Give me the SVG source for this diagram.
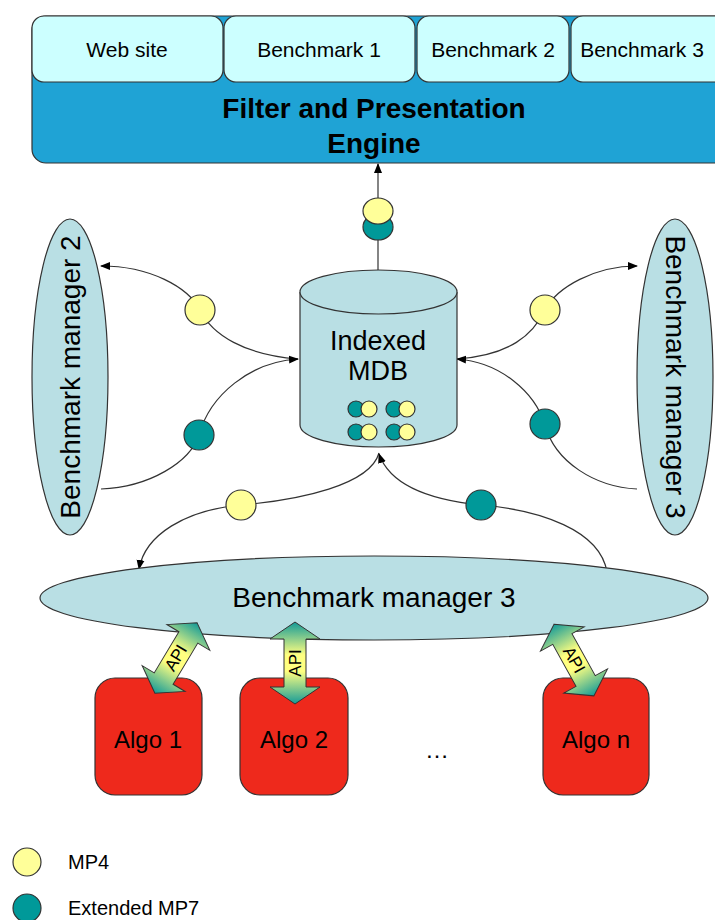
<svg xmlns="http://www.w3.org/2000/svg" width="715" height="920" viewBox="0 0 715 920">
<defs>
<style>
text{font-family:"Liberation Sans",Arial,sans-serif;fill:#000}
.tab{fill:#ccffff;stroke:#333;stroke-width:1.2}
.ell{fill:#b9dfe4;stroke:#333;stroke-width:1.2}
.algo{fill:#ee291c;stroke:#333;stroke-width:1.2}
.con{fill:none;stroke:#333;stroke-width:1.2}
.y{fill:#ffff99;stroke:#333;stroke-width:1.2}
.t{fill:#009999;stroke:#333;stroke-width:1.2}
.api{fill:url(#g);stroke:#333;stroke-width:1}
</style>
<marker id="ah" markerWidth="10" markerHeight="10" refX="9" refY="5" orient="auto" markerUnits="userSpaceOnUse">
<path d="M0,1 L10,5 L0,9 Z" fill="#000"/>
</marker>
<linearGradient id="g" x1="0" y1="0" x2="0" y2="1">
<stop offset="0" stop-color="#139a98"/>
<stop offset="0.4" stop-color="#ffff80"/>
<stop offset="0.6" stop-color="#ffff80"/>
<stop offset="1" stop-color="#139a98"/>
</linearGradient>
<path id="dbl" d="M0,-41 L25,-24 L11,-24 L11,24 L25,24 L0,41 L-25,24 L-11,24 L-11,-24 L-25,-24 Z"/>
</defs>
<rect width="715" height="920" fill="#fff"/>

<g id="engine">
<rect x="32" y="16" width="700" height="147" rx="14" fill="#1fa3d5" stroke="#333" stroke-width="1.2"/>
<text x="374" y="118" font-size="28" font-weight="bold" text-anchor="middle">Filter and Presentation</text>
<text x="374" y="153" font-size="28" font-weight="bold" text-anchor="middle">Engine</text>
</g>
<g id="tab-website"><rect class="tab" x="32" y="16" width="191" height="66" rx="12"/><text x="127" y="57" font-size="21" text-anchor="middle">Web site</text></g>
<g id="tab-bench1"><rect class="tab" x="224" y="16" width="191" height="66" rx="12"/><text x="319" y="57" font-size="21" text-anchor="middle">Benchmark 1</text></g>
<g id="tab-bench2"><rect class="tab" x="417" y="16" width="152" height="66" rx="12"/><text x="493" y="57" font-size="21" text-anchor="middle">Benchmark 2</text></g>
<g id="tab-bench3"><rect class="tab" x="571" y="16" width="160" height="66" rx="12"/><text x="642" y="57" font-size="21" text-anchor="middle">Benchmark 3</text></g>

<g id="connectors">
<path class="con" d="M378,270 L378,164" marker-end="url(#ah)"/>
<path class="con" d="M298,359 C245,355 212,335 200,310 C188,287 150,266 101,266" marker-end="url(#ah)"/>
<path class="con" d="M101,489 C150,487 190,462 199,435 C210,395 250,362 298,359" marker-end="url(#ah)"/>
<path class="con" d="M457,359 C510,355 533,335 545,310 C557,287 595,266 637,266" marker-end="url(#ah)"/>
<path class="con" d="M637,489 C595,487 555,462 545,425 C535,392 500,362 457,359" marker-end="url(#ah)"/>
<path class="con" d="M379,453 C370,485 300,500 241,505 C185,510 145,535 139,569" marker-end="url(#ah)"/>
<path class="con" d="M607,572 C600,530 540,510 481,505 C430,500 390,485 379,454" marker-end="url(#ah)"/>
<ellipse class="t" cx="378" cy="227" rx="15" ry="13"/>
<ellipse class="y" cx="378" cy="211" rx="15" ry="13"/>
<circle class="y" cx="200" cy="310" r="15"/>
<circle class="t" cx="199" cy="435" r="15"/>
<circle class="y" cx="545" cy="310" r="15"/>
<circle class="t" cx="545" cy="424" r="15"/>
<circle class="y" cx="241" cy="505" r="15"/>
<circle class="t" cx="481" cy="505" r="15"/>
</g>

<g id="mdb">
<path class="ell" d="M300,292 L300,425 A78.5,22 0 0 0 457,425 L457,292"/>
<ellipse class="ell" cx="378.5" cy="292" rx="78.5" ry="22"/>
<text x="378" y="350" font-size="27" text-anchor="middle">Indexed</text>
<text x="378" y="380" font-size="27" text-anchor="middle">MDB</text>
<circle class="t" cx="356" cy="409" r="8"/><circle class="y" cx="369" cy="409" r="8"/>
<circle class="t" cx="394" cy="409" r="8"/><circle class="y" cx="407" cy="409" r="8"/>
<circle class="t" cx="356" cy="432" r="8"/><circle class="y" cx="369" cy="432" r="8"/>
<circle class="t" cx="394" cy="432" r="8"/><circle class="y" cx="407" cy="432" r="8"/>
</g>

<g id="bm2">
<ellipse class="ell" cx="70" cy="377" rx="38" ry="158"/>
<text transform="translate(70,377) rotate(-90)" font-size="28" text-anchor="middle" dominant-baseline="central">Benchmark manager 2</text>
</g>
<g id="bm3-right">
<ellipse class="ell" cx="675" cy="377" rx="38" ry="158"/>
<text transform="translate(675,377) rotate(90)" font-size="28" text-anchor="middle" dominant-baseline="central">Benchmark manager 3</text>
</g>
<g id="bm3-bottom">
<ellipse class="ell" cx="374" cy="598" rx="334" ry="42"/>
<text x="374" y="607" font-size="28" text-anchor="middle">Benchmark manager 3</text>
</g>

<g id="algo1">
<rect class="algo" x="95" y="678" width="107" height="117" rx="20"/>
<text x="148" y="748" font-size="24" text-anchor="middle">Algo 1</text>
</g>
<g id="algo2">
<rect class="algo" x="240" y="678" width="108" height="117" rx="20"/>
<text x="294" y="748" font-size="24" text-anchor="middle">Algo 2</text>
</g>
<g id="algon">
<rect class="algo" x="543" y="678" width="106" height="117" rx="20"/>
<text x="596" y="748" font-size="24" text-anchor="middle">Algo n</text>
</g>
<text x="437" y="758" font-size="24" text-anchor="middle">…</text>

<g id="api1" transform="translate(176,658) rotate(31)">
<use href="#dbl" class="api"/>
<text transform="rotate(-90)" font-size="17" text-anchor="middle" dominant-baseline="central">API</text>
</g>
<g id="api2" transform="translate(295,663)">
<use href="#dbl" class="api"/>
<text transform="rotate(-90)" font-size="17" text-anchor="middle" dominant-baseline="central">API</text>
</g>
<g id="apin" transform="translate(574,660) rotate(-29)">
<use href="#dbl" class="api"/>
<text transform="rotate(90)" font-size="17" text-anchor="middle" dominant-baseline="central">API</text>
</g>

<g id="legend">
<circle class="y" cx="27" cy="862" r="14"/>
<text x="68" y="869" font-size="20">MP4</text>
<circle class="t" cx="27" cy="908" r="14"/>
<text x="68" y="915" font-size="20">Extended MP7</text>
</g>
</svg>
